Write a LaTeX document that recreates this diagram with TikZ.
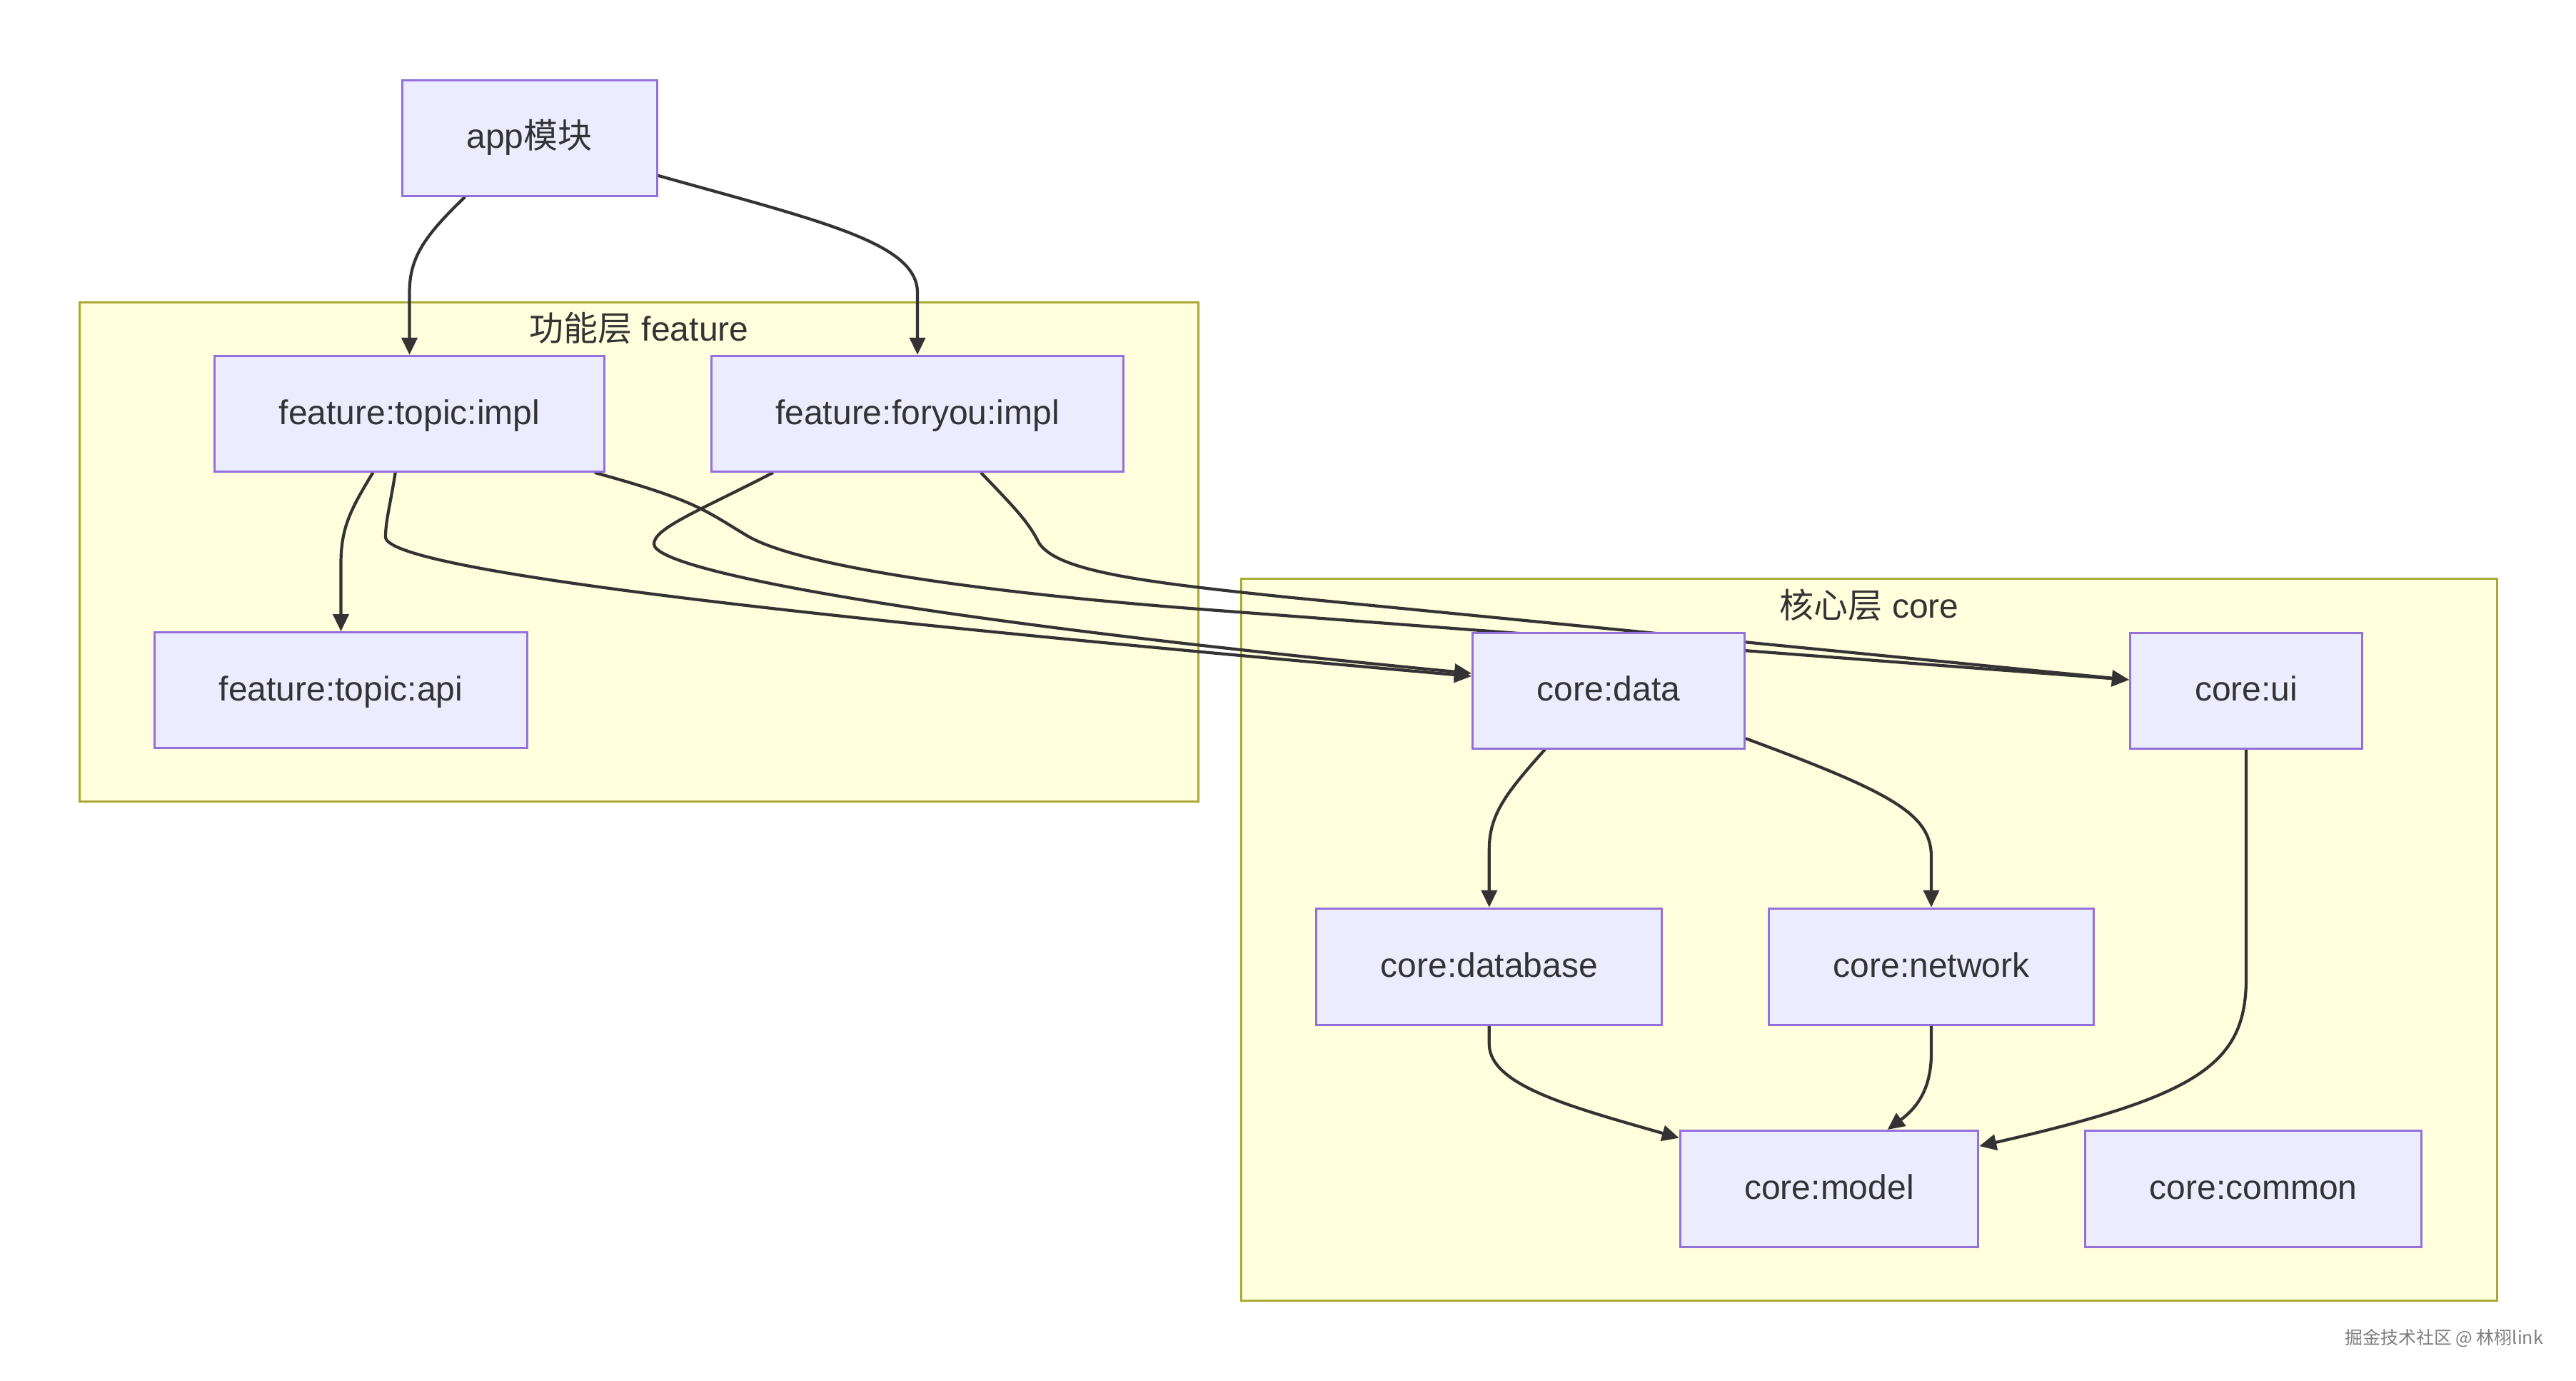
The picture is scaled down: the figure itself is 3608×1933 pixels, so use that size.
\documentclass[tikz,border=0pt]{standalone}
\usepackage{fontspec}
\setmainfont{Liberation Sans}
\newfontfamily\cjk{Noto Sans CJK SC}
\usetikzlibrary{arrows.meta,calc}
\definecolor{nodefill}{HTML}{ECECFF}
\definecolor{nodeline}{HTML}{9370DB}
\definecolor{clfill}{HTML}{FFFFDE}
\definecolor{clline}{HTML}{AAAA33}
\definecolor{edgecol}{HTML}{333333}
\definecolor{txt}{HTML}{333333}
\definecolor{wmark}{HTML}{7E7E7E}
\pgfdeclarelayer{bglayer}
\pgfdeclarelayer{edgelayer}
\pgfsetlayers{bglayer,edgelayer,main}
\begin{document}
\begin{tikzpicture}[x=1pt,y=-1pt,
  box/.style={draw=nodeline, fill=nodefill, line width=3pt, minimum height=162pt,
    inner sep=0pt, text=txt, font=\fontsize{48}{58}\selectfont,
    text height=35pt, text depth=5.6pt},
  cluster/.style={draw=clline, fill=clfill, line width=3pt, inner sep=0pt},
  ttl/.style={text=txt, font=\fontsize{48}{58}\selectfont, inner sep=0pt},
  link/.style={draw=edgecol, line width=4.2pt, -{Triangle[length=24pt,width=22pt]}},
]
\useasboundingbox (0,0) rectangle (3608,1933);
\begin{pgfonlayer}{bglayer}
  \fill[white] (0,0) rectangle (3608,1933);
  \node[cluster, minimum width=1567pt, minimum height=699.5pt] (featurecl) at (895.1,772.95) {};
  \node[cluster, minimum width=1758.1pt, minimum height=1011pt] (corecl) at (2617.95,1316) {};
\end{pgfonlayer}

% cluster titles
\node[ttl] (featurettl) at (895,459) {{\cjk 功能层} feature};
\node[ttl] (corettl) at (2618,847) {{\cjk 核心层} core};

% nodes
\node[box, minimum width=357pt] (app) at (741.5,193) {app{\cjk 模块}};
\node[box, minimum width=546.5pt] (ftopic) at (573.5,579.3) {feature:topic:impl};
\node[box, minimum width=577.6pt] (fforyou) at (1285,579.3) {feature:foryou:impl};
\node[box, minimum width=522.3pt] (fapi) at (477.5,966.6) {feature:topic:api};
\node[box, minimum width=381pt] (cdata) at (2253,967) {core:data};
\node[box, minimum width=325pt] (cui) at (3146,967) {core:ui};
\node[box, minimum width=484.3pt, minimum height=163pt] (cdb) at (2085.8,1353.6) {core:database};
\node[box, minimum width=455pt, minimum height=163pt] (cnet) at (2705,1353.6) {core:network};
\node[box, minimum width=417.4pt, minimum height=163pt] (cmodel) at (2562,1665) {core:model};
\node[box, minimum width=471pt, minimum height=163pt] (ccommon) at (3156,1665) {core:common};

% watermark
\node[inner sep=0pt, text=wmark, font=\cjk\fontsize{25}{30}\selectfont] (wm) at (3423,1874) {掘金技术社区 @ 林栩link};

% connector end points
\coordinate (a1) at ($(app.south west)!0.25!(app.south east)$);
\coordinate (a2) at ($(app.north east)!0.82!(app.south east)$);
\coordinate (b1) at ($(ftopic.south west)!0.407!(ftopic.south east)$);
\coordinate (b2) at ($(ftopic.south west)!0.464!(ftopic.south east)$);
\coordinate (b3) at ($(ftopic.south west)!0.972!(ftopic.south east)$);
\coordinate (c1) at ($(fforyou.south west)!0.152!(fforyou.south east)$);
\coordinate (c2) at ($(fforyou.south west)!0.653!(fforyou.south east)$);
\coordinate (dataA) at ($(cdata.west)+(0,-20)$);
\coordinate (dataB) at ($(cdata.west)+(0,-24)$);
\coordinate (uiA) at ($(cui.west)+(0,-15)$);
\coordinate (d1) at ($(cdata.south west)!0.268!(cdata.south east)$);
\coordinate (d2) at ($(cdata.north east)!0.907!(cdata.south east)$);
\coordinate (e1) at ($(cmodel.north east)!0.139!(cmodel.south east)$);
\coordinate (e2) at ($(cmodel.north west)!0.07!(cmodel.south west)$);
\coordinate (e3) at ($(cmodel.north west)!0.694!(cmodel.north east)$);

\begin{pgfonlayer}{edgelayer}
  \draw[link] (a1) .. controls (595,330) and (573.5,360) .. (573.5,410) -- (ftopic.north);
  \draw[link] (a2) .. controls (1150,310) and (1285,340) .. (1285,410) -- (fforyou.north);
  \draw[link] (b1) .. controls (490,715) and (477.5,740) .. (477.5,790) -- (fapi.north);
  \draw[link] (b2) .. controls (546,710) and (540,730) .. (540,752)
               .. controls (540,805) and (1300,880) .. (dataA);
  \draw[link] (c1) .. controls (980,715) and (915,740) .. (916,762)
               .. controls (917,800) and (1300,870) .. (dataB);
  \draw[link] (b3) .. controls (975,701) and (986,714) .. (1046,750)
               .. controls (1126,798) and (1430,834) .. (1680,853) -- (uiA);
  \draw[link] (c2) .. controls (1420,710) and (1440,730) .. (1455,760)
               .. controls (1480,800) and (1600,815) .. (1800,836) -- (uiA);
  \draw[link] (d1) .. controls (2110,1110) and (2085.8,1140) .. (2085.8,1190) -- (cdb.north);
  \draw[link] (d2) .. controls (2650,1110) and (2705,1140) .. (2705,1200) -- (cnet.north);
  \draw[link] (cui.south) -- (3146,1370) .. controls (3146,1490) and (3080,1535) .. (e1);
  \draw[link] (cdb.south) -- (2085.8,1462) .. controls (2085.8,1520) and (2200,1550) .. (e2);
  \draw[link] (cnet.south) -- (2705,1475) .. controls (2705,1530) and (2680,1555) .. (e3);
\end{pgfonlayer}
\end{tikzpicture}
\end{document}
